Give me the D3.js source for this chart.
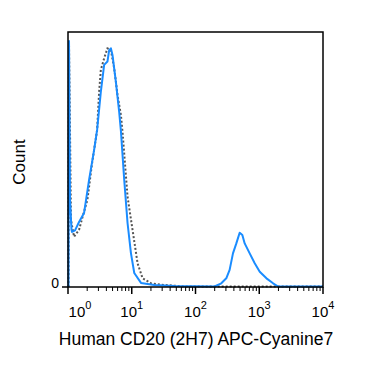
<!DOCTYPE html>
<html><head><meta charset="utf-8">
<script src="https://cdn.jsdelivr.net/npm/d3@7"></script>
<style>body{margin:0;background:#fff}svg{display:block}text{font-family:"Liberation Sans",Arial,sans-serif;fill:#000}</style>
</head><body>
<script>
// Blue (stained) histogram: x = fluorescence, y = % of max count
const stainedX = [1.018,1.037,1.075,1.135,1.156,1.289,1.49,1.786,2.141,2.567,2.862,3.273,3.689,4.158,4.423,4.704,4.985,5.638,6.355,6.76,7.62,8.59,9.71,10.95,13.96,22.6,46.7,199,254,304,343,387,437,493,543,591,708,849,1018,1298,1648,1977,10000];
const stainedY = [0,96.5,34.1,22.4,21.6,22.2,25.5,29.0,42.0,53.7,61.6,76.5,87.1,88.4,92.9,93.6,91.0,80.4,68.6,61.2,42.0,25.1,13.3,5.5,1.6,0.8,0.4,0.2,1.45,3.4,6.7,13.2,17.1,21.3,20.4,17.1,13.2,9.3,6.0,3.4,1.45,0.2,0.2];
// Dotted (control) histogram
const controlX = [1.018,1.037,1.115,1.243,1.49,1.723,2.014,2.388,2.862,3.077,3.273,3.689,4.158,4.704,5.302,5.975,6.76,7.161,8.59,10.29,12.34,14.79,20.06,32.5,67.1,10000];
const controlY = [0,96,26.3,19.7,22.4,28.2,34.1,48.6,61.6,76.5,85.1,89.7,93.6,92.9,85.8,75.3,67.5,60.9,35.4,22.4,9.3,3.4,1.45,0.8,0.2,0.2];
const xTickExps = [0,1,2,3,4];
const yTickValues = [0];
const xTitle = "Human CD20 (2H7) APC-Cyanine7";
const yTitle = "Count";

const W = 375, H = 369;
const L = 68, R = 323, T = 32, B = 287;
const svg = d3.select("body").append("svg").attr("width", W).attr("height", H);
const x = d3.scaleLog().domain([1, 1e4]).range([L, R]);
const y = d3.scaleLinear().domain([0, 100]).range([B, T]);

const line = d3.line().x(d => x(d[0])).y(d => y(d[1])).curve(d3.curveLinear);
svg.append("path").datum(controlX.map((v,i)=>[v,controlY[i]]))
  .attr("d", line).attr("fill","none").attr("stroke","#555").attr("stroke-width",2)
  .attr("stroke-dasharray","2,2");
svg.append("path").datum(stainedX.map((v,i)=>[v,stainedY[i]]))
  .attr("d", line).attr("fill","none").attr("stroke","#1a8cff").attr("stroke-width",2)
  .attr("stroke-linejoin","round");

// frame
svg.append("rect").attr("x",L).attr("y",T).attr("width",R-L).attr("height",B-T)
  .attr("fill","none").attr("stroke","#000").attr("stroke-width",1.5);

// x axis ticks
const minor = [];
for (let e = 0; e < 4; e++) for (let m = 2; m <= 9; m++) minor.push(m*Math.pow(10,e));
const xa = svg.append("g");
xa.selectAll("line.maj").data(xTickExps.map(e=>Math.pow(10,e))).join("line")
  .attr("x1",d=>x(d)).attr("x2",d=>x(d)).attr("y1",B).attr("y2",B+7).attr("stroke","#000").attr("stroke-width",1.5);
xa.selectAll("line.min").data(minor).join("line")
  .attr("x1",d=>x(d)).attr("x2",d=>x(d)).attr("y1",B).attr("y2",B+4).attr("stroke","#000").attr("stroke-width",1);
const lab = xa.selectAll("text").data(xTickExps).join("text")
  .attr("x",d=> x(Math.pow(10,d)) + (d===0?12:0)).attr("y",B+30)
  .attr("text-anchor","middle").style("font-size","15px");
lab.append("tspan").text("10");
lab.append("tspan").attr("dy",-8).style("font-size","11px").text(d=>d);

// y axis
svg.selectAll("line.yt").data(yTickValues).join("line")
  .attr("x1",L-6).attr("x2",L).attr("y1",d=>y(d)).attr("y2",d=>y(d)).attr("stroke","#000").attr("stroke-width",1.5);
svg.selectAll("text.yl").data(yTickValues).join("text").attr("class","yl")
  .attr("x",L-9).attr("y",d=>y(d)+1).attr("text-anchor","end").style("font-size","14px").text(d=>d);

svg.append("text").attr("x",196).attr("y",345).attr("text-anchor","middle").style("font-size","17.5px").text(xTitle);
svg.append("text").attr("transform","translate(25,162) rotate(-90)").attr("text-anchor","middle").style("font-size","17px").text(yTitle);
</script>
</body></html>
